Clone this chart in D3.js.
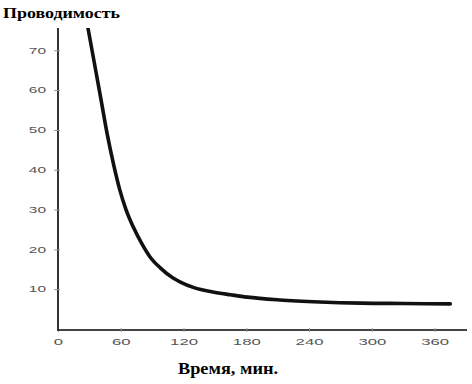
<!DOCTYPE html>
<html><head><meta charset="utf-8">
<script src="https://cdn.jsdelivr.net/npm/d3@7"></script>
<style>html,body{margin:0;padding:0;background:#fff;}</style>
</head><body>
<svg id="c" width="472" height="384"></svg>
<script>
const timeMin = [27, 29, 41, 47, 53.5, 59, 65, 72, 80, 88, 98, 110, 117, 130, 148, 165, 181, 212, 250, 290, 330, 375];
const conductivity = [78, 75.1, 57.8, 49.0, 40.9, 35.0, 30.0, 25.6, 21.5, 18.1, 15.3, 12.8, 11.8, 10.4, 9.3, 8.6, 8.0, 7.3, 6.8, 6.5, 6.4, 6.3];
const xTicks = [0, 60, 120, 180, 240, 300, 360];
const yTicks = [10, 20, 30, 40, 50, 60, 70];
const yTitle = "Проводимость";
const xTitle = "Время, мин.";

const svg = d3.select("#c");
const x = d3.scaleLinear().domain([0, 391]).range([58, 467]);
const y = d3.scaleLinear().domain([0, 75.6]).range([329, 28]);

svg.append("clipPath").attr("id","clip").append("rect")
  .attr("x", 58).attr("y", 28).attr("width", 420).attr("height", 305);

const xAxis = svg.append("g").attr("transform","translate(0,330)")
  .call(d3.axisBottom(x).tickValues(xTicks).tickSize(2).tickPadding(7).tickFormat(d3.format("d")));
xAxis.select(".domain").attr("stroke","#444").attr("stroke-width",2).attr("d","M58,0H467");
xAxis.selectAll(".tick line").attr("stroke","#999").attr("y1",-2);
xAxis.selectAll(".tick text").attr("fill","#555").attr("font-family","Liberation Sans, Arial, sans-serif")
  .attr("font-size",8.5).attr("textLength", d => String(d).length*9.3).attr("lengthAdjust","spacingAndGlyphs");

const yAxis = svg.append("g").attr("transform","translate(58,0)")
  .call(d3.axisLeft(y).tickValues(yTicks).tickSize(3).tickPadding(9).tickFormat(d3.format("d")));
yAxis.select(".domain").attr("stroke","#333").attr("stroke-width",2).attr("d","M0,28V331");
yAxis.selectAll(".tick line").attr("stroke","#999").attr("x2",-4).attr("x1",2);
yAxis.selectAll(".tick text").attr("fill","#555").attr("font-family","Liberation Sans, Arial, sans-serif")
  .attr("font-size",8.5).attr("textLength", d => String(d).length*8.6).attr("lengthAdjust","spacingAndGlyphs");

const data = timeMin.map((t,i)=>({t, v: conductivity[i]}));
svg.append("path").datum(data).attr("clip-path","url(#clip)")
  .attr("fill","none").attr("stroke","#111").attr("stroke-width",3.6).attr("stroke-linecap","round")
  .attr("d", d3.line().x(d=>x(d.t)).y(d=>y(d.v)).curve(d3.curveMonotoneX));

svg.append("text").attr("x",3).attr("y",18).text(yTitle)
  .attr("font-family","Liberation Serif, Times New Roman, serif").attr("font-weight","bold")
  .attr("font-size",15).attr("fill","#000").attr("textLength",117).attr("lengthAdjust","spacingAndGlyphs");
svg.append("text").attr("x",178).attr("y",374).text(xTitle)
  .attr("font-family","Liberation Serif, Times New Roman, serif").attr("font-weight","bold")
  .attr("font-size",16).attr("fill","#000").attr("textLength",100).attr("lengthAdjust","spacingAndGlyphs");
</script>
</body></html>
